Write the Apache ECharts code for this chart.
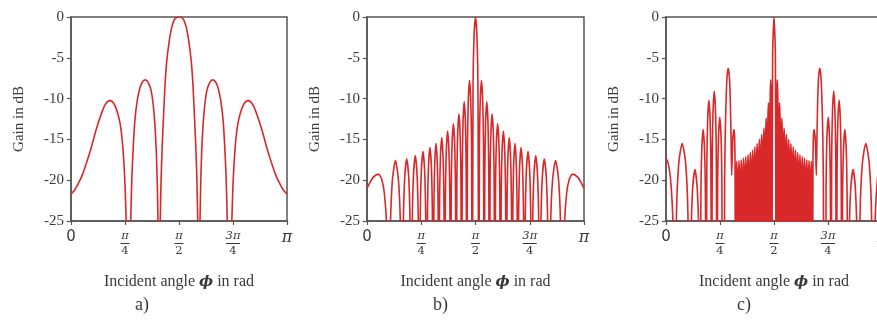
<!DOCTYPE html>
<html>
<head>
<meta charset="utf-8">
<script src="https://cdn.jsdelivr.net/npm/echarts@6/dist/echarts.min.js"></script>
<style>
html,body{margin:0;padding:0;background:#fff;}
#chart{width:877px;height:324px;}
</style>
</head>
<body>
<div id="chart"></div>
<script>
// x values are fractions of pi (0 .. 1), y values are gain in dB
const xTickLabels = ['0', 'π/4', 'π/2', '3π/4', 'π'];
const panelCaptions = ['a)', 'b)', 'c)'];
const yAxisTitle = 'Gain in dB';
const xAxisTitle = ['Incident angle ', 'ϕ', ' in rad'];

const panelA = [
  [0,-21.7],[0.017,-21.2],[0.034,-20.4],[0.05,-19.5],[0.065,-18.4],[0.08,-17.2],[0.095,-15.9],[0.11,-14.4],
  [0.126,-13.0],[0.14,-11.9],[0.155,-10.9],[0.168,-10.4],[0.18,-10.25],[0.192,-10.4],[0.204,-10.9],[0.216,-11.8],
  [0.227,-13.0],[0.236,-14.8],[0.244,-17.5],[0.25,-20.5],[0.256,-25.5],[0.262,-34],[0.266,-45],[0.27,-34],
  [0.276,-25.5],[0.282,-19.5],[0.289,-15.5],[0.296,-12.6],[0.307,-10.2],[0.319,-8.7],[0.332,-7.9],[0.345,-7.7],
  [0.357,-8.0],[0.37,-8.9],[0.38,-10.6],[0.388,-13.0],[0.395,-16.5],[0.4,-21],[0.404,-27],[0.408,-45],
  [0.412,-27],[0.417,-20],[0.422,-16],[0.427,-13],[0.435,-8.5],[0.443,-5.5],[0.455,-2.9],[0.466,-1.3],
  [0.478,-0.35],[0.49,-0.05],[0.5,0],
  [0.51,-0.05],[0.522,-0.35],[0.534,-1.3],[0.545,-2.9],[0.557,-5.5],[0.565,-8.5],[0.573,-13],[0.578,-16],
  [0.583,-20],[0.588,-27],[0.592,-45],[0.596,-27],[0.6,-21],[0.605,-16.5],[0.612,-13.0],[0.62,-10.6],
  [0.63,-8.9],[0.643,-8.0],[0.655,-7.7],[0.668,-7.9],[0.681,-8.7],[0.693,-10.2],[0.704,-12.6],[0.711,-15.5],
  [0.718,-19.5],[0.724,-25.5],[0.73,-34],[0.734,-45],[0.738,-34],[0.744,-25.5],[0.75,-20.5],[0.756,-17.5],
  [0.764,-14.8],[0.773,-13.0],[0.784,-11.8],[0.796,-10.9],[0.808,-10.4],[0.82,-10.25],[0.832,-10.4],[0.845,-10.9],
  [0.86,-11.9],[0.874,-13.0],[0.89,-14.4],[0.905,-15.9],[0.92,-17.2],[0.935,-18.4],[0.95,-19.5],[0.966,-20.4],
  [0.983,-21.2],[1,-21.7]
];

const panelB = [
  [0,-21.0],[0.015,-20.2],[0.03,-19.6],[0.052,-19.25],[0.068,-19.9],[0.08,-21.6],[0.09,-25.5],[0.1,-45],
  [0.1074,-26.3],[0.1167,-20.1],[0.131,-17.6],[0.1453,-20.1],[0.1546,-26.3],[0.162,-45],
  [0.167,-26.1],[0.1733,-19.9],[0.183,-17.4],[0.1927,-19.9],[0.199,-26.1],[0.204,-45],
  [0.2084,-25.7],[0.214,-19.5],[0.2225,-17.0],[0.231,-19.5],[0.2366,-25.7],[0.241,-45],
  [0.2451,-25.2],[0.2502,-19.0],[0.258,-16.5],[0.2658,-19.0],[0.2709,-25.2],[0.275,-45],
  [0.2786,-24.7],[0.2831,-18.5],[0.29,-16.0],[0.2969,-18.5],[0.3014,-24.7],[0.305,-45],
  [0.3081,-24.2],[0.312,-18.0],[0.318,-15.5],[0.324,-18.0],[0.3279,-24.2],[0.331,-45],
  [0.3342,-23.5],[0.3383,-17.3],[0.3445,-14.8],[0.3507,-17.3],[0.3548,-23.5],[0.358,-45],
  [0.3612,-22.7],[0.3653,-16.5],[0.3715,-14.0],[0.3777,-16.5],[0.3818,-22.7],[0.385,-45],
  [0.3881,-21.8],[0.392,-15.6],[0.398,-13.1],[0.404,-15.6],[0.4079,-21.8],[0.411,-45],
  [0.414,-20.6],[0.4178,-14.4],[0.4235,-11.9],[0.4292,-14.4],[0.433,-20.6],[0.436,-45],
  [0.4389,-19.1],[0.4425,-12.9],[0.448,-10.4],[0.4535,-12.9],[0.4571,-19.1],[0.46,-45],
  [0.463,-16.5],[0.4668,-10.3],[0.4725,-7.8],[0.4782,-10.3],[0.482,-16.5],[0.485,-45],
  [0.4886,-8.7],[0.4931,-2.5],[0.5,0],[0.5069,-2.5],[0.5114,-8.7],[0.515,-45],
  [0.518,-16.5],[0.5218,-10.3],[0.5275,-7.8],[0.5332,-10.3],[0.537,-16.5],[0.54,-45],
  [0.5429,-19.1],[0.5465,-12.9],[0.552,-10.4],[0.5575,-12.9],[0.5611,-19.1],[0.564,-45],
  [0.567,-20.6],[0.5708,-14.4],[0.5765,-11.9],[0.5822,-14.4],[0.586,-20.6],[0.589,-45],
  [0.5921,-21.8],[0.596,-15.6],[0.602,-13.1],[0.608,-15.6],[0.6119,-21.8],[0.615,-45],
  [0.6182,-22.7],[0.6223,-16.5],[0.6285,-14.0],[0.6347,-16.5],[0.6388,-22.7],[0.642,-45],
  [0.6452,-23.5],[0.6493,-17.3],[0.6555,-14.8],[0.6617,-17.3],[0.6658,-23.5],[0.669,-45],
  [0.6721,-24.2],[0.676,-18.0],[0.682,-15.5],[0.688,-18.0],[0.6919,-24.2],[0.695,-45],
  [0.6986,-24.7],[0.7031,-18.5],[0.71,-16.0],[0.7169,-18.5],[0.7214,-24.7],[0.725,-45],
  [0.7291,-25.2],[0.7342,-19.0],[0.742,-16.5],[0.7498,-19.0],[0.7549,-25.2],[0.759,-45],
  [0.7634,-25.7],[0.769,-19.5],[0.7775,-17.0],[0.786,-19.5],[0.7916,-25.7],[0.796,-45],
  [0.801,-26.1],[0.8073,-19.9],[0.817,-17.4],[0.8267,-19.9],[0.833,-26.1],[0.838,-45],
  [0.8454,-26.3],[0.8547,-20.1],[0.869,-17.6],[0.8833,-20.1],[0.8926,-26.3],[0.9,-45],
  [0.91,-25.5],[0.92,-21.6],[0.932,-19.9],[0.948,-19.25],[0.97,-19.6],[0.985,-20.2],[1,-21.0]
];

const panelC = [
  [0,-17.3],[0.01,-17.9],[0.02,-19.6],[0.028,-22.5],[0.034,-27],[0.04,-45],
  [0.0484,-24.2],[0.0589,-18.0],[0.075,-15.5],[0.0911,-18.0],[0.1016,-24.2],[0.11,-45],
  [0.1158,-27.4],[0.123,-21.2],[0.134,-18.7],[0.145,-21.2],[0.1522,-27.4],[0.158,-45],
  [0.1614,-22.5],[0.1656,-16.3],[0.172,-13.8],[0.1784,-16.3],[0.1826,-22.5],[0.186,-45],
  [0.189,-18.9],[0.1928,-12.7],[0.1985,-10.2],[0.2042,-12.7],[0.208,-18.9],[0.211,-45],
  [0.214,-17.8],[0.2178,-11.6],[0.2235,-9.1],[0.2292,-11.6],[0.233,-17.8],[0.236,-45],
  [0.2391,-21.0],[0.243,-14.8],[0.249,-12.3],[0.255,-14.8],[0.2589,-21.0],[0.262,-45],
  [0.268,-45],[0.2715,-20],[0.2745,-14],[0.279,-9.5],[0.283,-7.2],[0.288,-6.3],[0.293,-7.2],[0.297,-9.5],
  [0.301,-14.5],[0.304,-19.4],[0.3085,-15.3],[0.312,-14.1],[0.315,-13.8],[0.3175,-14.6],[0.3195,-17.5],[0.322,-45],
  [0.3246,-20.7],[0.3273,-17.7],[0.3299,-20.7],[0.3325,-45],
  [0.3351,-20.6],[0.3378,-17.6],[0.3404,-20.6],[0.343,-45],
  [0.3456,-20.5],[0.3483,-17.5],[0.3509,-20.5],[0.3535,-45],
  [0.3561,-20.3],[0.3588,-17.3],[0.3614,-20.3],[0.364,-45],
  [0.3666,-20.1],[0.3693,-17.1],[0.3719,-20.1],[0.3745,-45],
  [0.3771,-19.9],[0.3798,-16.9],[0.3824,-19.9],[0.385,-45],
  [0.3876,-19.6],[0.3903,-16.6],[0.3929,-19.6],[0.3955,-45],
  [0.3981,-19.3],[0.4008,-16.3],[0.4034,-19.3],[0.406,-45],
  [0.4086,-18.9],[0.4113,-15.9],[0.4139,-18.9],[0.4165,-45],
  [0.4191,-18.5],[0.4218,-15.5],[0.4244,-18.5],[0.427,-45],
  [0.4296,-18.0],[0.4323,-15.0],[0.4349,-18.0],[0.4375,-45],
  [0.4401,-17.4],[0.4428,-14.4],[0.4454,-17.4],[0.448,-45],
  [0.4506,-16.6],[0.4533,-13.6],[0.4559,-16.6],[0.4585,-45],
  [0.4611,-15.4],[0.4638,-12.4],[0.4664,-15.4],[0.469,-45],
  [0.4716,-13.5],[0.4743,-10.5],[0.4769,-13.5],[0.4795,-45],
  [0.4821,-10.7],[0.4848,-7.7],[0.4874,-10.7],[0.49,-45],
  [0.4935,-5],[0.5,0],[0.5065,-5],[0.51,-45],
  [0.5126,-10.7],[0.5152,-7.7],[0.5179,-10.7],[0.5205,-45],
  [0.5231,-13.5],[0.5257,-10.5],[0.5284,-13.5],[0.531,-45],
  [0.5336,-15.4],[0.5362,-12.4],[0.5389,-15.4],[0.5415,-45],
  [0.5441,-16.6],[0.5467,-13.6],[0.5494,-16.6],[0.552,-45],
  [0.5546,-17.4],[0.5572,-14.4],[0.5599,-17.4],[0.5625,-45],
  [0.5651,-18.0],[0.5677,-15.0],[0.5704,-18.0],[0.573,-45],
  [0.5756,-18.5],[0.5782,-15.5],[0.5809,-18.5],[0.5835,-45],
  [0.5861,-18.9],[0.5887,-15.9],[0.5914,-18.9],[0.594,-45],
  [0.5966,-19.3],[0.5992,-16.3],[0.6019,-19.3],[0.6045,-45],
  [0.6071,-19.6],[0.6097,-16.6],[0.6124,-19.6],[0.615,-45],
  [0.6176,-19.9],[0.6202,-16.9],[0.6229,-19.9],[0.6255,-45],
  [0.6281,-20.1],[0.6307,-17.1],[0.6334,-20.1],[0.636,-45],
  [0.6386,-20.3],[0.6412,-17.3],[0.6439,-20.3],[0.6465,-45],
  [0.6491,-20.5],[0.6517,-17.5],[0.6544,-20.5],[0.657,-45],
  [0.6596,-20.6],[0.6622,-17.6],[0.6649,-20.6],[0.6675,-45],
  [0.6701,-20.7],[0.6727,-17.7],[0.6754,-20.7],[0.678,-45],
  [0.6805,-17.5],[0.6825,-14.6],[0.685,-13.8],[0.688,-14.1],[0.6915,-15.3],[0.696,-19.4],[0.699,-14.5],
  [0.703,-9.5],[0.707,-7.2],[0.712,-6.3],[0.717,-7.2],[0.721,-9.5],[0.7255,-14],[0.7285,-20],[0.732,-45],
  [0.738,-45],[0.7411,-21.0],[0.745,-14.8],[0.751,-12.3],[0.757,-14.8],[0.7609,-21.0],[0.764,-45],
  [0.767,-17.8],[0.7708,-11.6],[0.7765,-9.1],[0.7822,-11.6],[0.786,-17.8],[0.789,-45],
  [0.792,-18.9],[0.7958,-12.7],[0.8015,-10.2],[0.8072,-12.7],[0.811,-18.9],[0.814,-45],
  [0.8174,-22.5],[0.8216,-16.3],[0.828,-13.8],[0.8344,-16.3],[0.8386,-22.5],[0.842,-45],
  [0.8478,-27.4],[0.855,-21.2],[0.866,-18.7],[0.877,-21.2],[0.8842,-27.4],[0.89,-45],
  [0.8984,-24.2],[0.9089,-18.0],[0.925,-15.5],[0.9411,-18.0],[0.9516,-24.2],[0.96,-45],
  [0.966,-27],[0.972,-22.5],[0.98,-19.6],[0.99,-17.9],[1,-17.3]
];

const panels = [panelA, panelB, panelC];
const gridLefts = [71, 367, 666];
const gridWidths = [216, 217, 216];
const captionX = [144, 442, 746];

const TXT = '#3a3a3a';
const AX = '#555555';
const RED = '#d8282a';

function xLabel(v) {
  const i = Math.round(v * 4);
  const t = xTickLabels[i];
  if (t === undefined) return '';
  if (t.indexOf('/') < 0) return t === '0' ? '{zero|0}' : '{pi|' + t + '}';
  const parts = t.split('/');
  const barKey = parts[0].length > 1 ? 'barw' : 'bar';
  return '{num|' + parts[0] + '}\n{' + barKey + '| }\n{den|' + parts[1] + '}';
}

const rich = {
  zero: {fontFamily: 'DejaVu Sans', fontSize: 15, color: TXT, lineHeight: 15},
  pi: {fontFamily: 'DejaVu Serif', fontStyle: 'italic', fontSize: 16, color: TXT, lineHeight: 15},
  num: {fontFamily: 'DejaVu Serif', fontStyle: 'italic', fontSize: 11.5, color: TXT, lineHeight: 12, align: 'center'},
  bar: {width: 9, height: 1, backgroundColor: TXT, lineHeight: 3, align: 'center'},
  barw: {width: 14, height: 1, backgroundColor: TXT, lineHeight: 3, align: 'center'},
  den: {fontFamily: 'DejaVu Serif', fontSize: 11.5, color: TXT, lineHeight: 12, align: 'center'}
};

const grids = [], xAxes = [], yAxes = [], series = [], graphics = [];
for (let k = 0; k < 3; k++) {
  grids.push({left: gridLefts[k], top: 17, width: gridWidths[k], height: 204,
    outerBoundsMode: 'none', containLabel: false,
    show: true, borderColor: AX, borderWidth: 1.5, backgroundColor: 'transparent'});
  xAxes.push({
    gridIndex: k, type: 'value', min: 0, max: 1, interval: 0.25,
    axisLine: {show: true, onZero: false, lineStyle: {color: AX, width: 1.5}},
    axisTick: {show: true, length: 4, lineStyle: {color: AX, width: 1.2}},
    splitLine: {show: false},
    axisLabel: {margin: 9, formatter: xLabel, rich: rich, showMinLabel: true, showMaxLabel: true, hideOverlap: false},
    name: '{t|' + xAxisTitle[0] + '}{phi|' + xAxisTitle[1] + '}{t|' + xAxisTitle[2] + '}',
    nameLocation: 'middle', nameGap: 53,
    nameTextStyle: {rich: {
      t: {fontFamily: 'Liberation Serif', fontSize: 16, color: TXT},
      phi: {fontFamily: 'DejaVu Serif', fontStyle: 'italic', fontWeight: 'bold', fontSize: 15, color: TXT}
    }}
  });
  yAxes.push({
    gridIndex: k, type: 'value', min: -25, max: 0, interval: 5,
    axisLine: {show: true, onZero: false, lineStyle: {color: AX, width: 1.5}},
    axisTick: {show: true, length: 4, lineStyle: {color: AX, width: 1.2}},
    splitLine: {show: false},
    axisLabel: {margin: 7, fontFamily: 'Liberation Serif', fontSize: 15, color: TXT},
    name: yAxisTitle, nameLocation: 'middle', nameRotate: 90, nameGap: 44,
    nameTextStyle: {fontFamily: 'Liberation Serif', fontSize: 15, color: TXT}
  });
  series.push({
    type: 'line', xAxisIndex: k, yAxisIndex: k, data: panels[k],
    showSymbol: false, symbol: 'none', clip: true, smooth: k === 0 ? 0.2 : 0.25,
    lineStyle: {color: RED, width: 1.6}, animation: false
  });
  graphics.push({type: 'text', left: captionX[k] - 9, top: 296,
    style: {text: panelCaptions[k], font: '18px "Liberation Serif"', fill: TXT}});
}

const chart = echarts.init(document.getElementById('chart'), null, {renderer: 'canvas'});
chart.setOption({
  animation: false,
  backgroundColor: '#ffffff',
  grid: grids, xAxis: xAxes, yAxis: yAxes, series: series, graphic: graphics
});
</script>
</body>
</html>
